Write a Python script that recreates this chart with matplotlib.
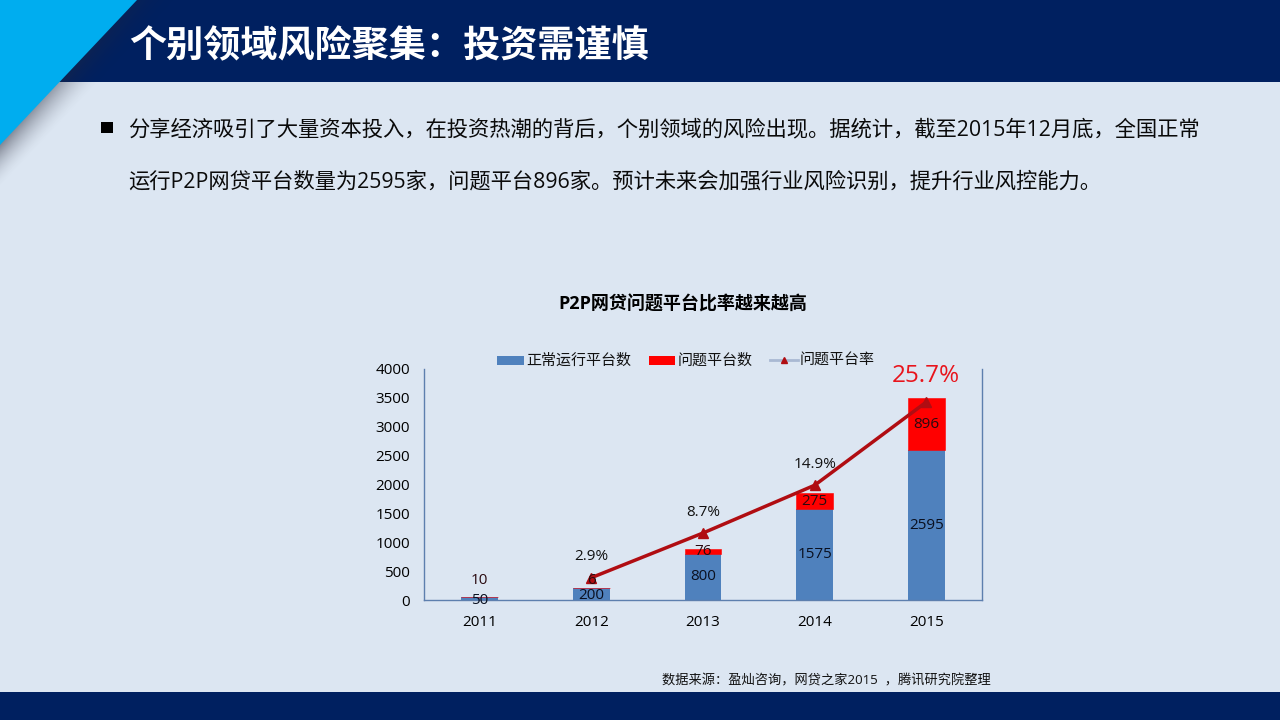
import numpy as np
import matplotlib
matplotlib.use('Agg')
import matplotlib.pyplot as plt
from matplotlib.patches import Polygon, Rectangle

plt.rcParams['font.family'] = ['Open Sans', 'Noto Sans CJK SC', 'DejaVu Sans']

years = ['2011', '2012', '2013', '2014', '2015']
normal = [50, 200, 800, 1575, 2595]
problem = [10, 6, 76, 275, 896]
rate = [np.nan, 2.9, 8.7, 14.9, 25.7]
rate_labels = ['', '2.9%', '8.7%', '14.9%', '25.7%']
yticks = [0, 500, 1000, 1500, 2000, 2500, 3000, 3500, 4000]

title = '个别领域风险聚集：投资需谨慎'
body1 = '分享经济吸引了大量资本投入，在投资热潮的背后，个别领域的风险出现。据统计，截至2015年12月底，全国正常'
body2 = '运行P2P网贷平台数量为2595家，问题平台896家。预计未来会加强行业风险识别，提升行业风控能力。'
chart_title = 'P2P网贷问题平台比率越来越高'
source = '数据来源：盈灿咨询，网贷之家2015  ，腾讯研究院整理'

BG = '#dce6f2'
NAVY = '#002060'
BLUE = '#4f81bd'
RED = '#ff0000'
DARKRED = '#b00d12'
W, H = 1280, 720


def px_axes(fig, left, top, right, bottom):
    return fig.add_axes([left / W, 1 - bottom / H, (right - left) / W, (bottom - top) / H])


fig = plt.figure(figsize=(12.8, 7.2), dpi=100, facecolor=BG)

# slide background, pixel coords
bg = fig.add_axes([0, 0, 1, 1])
bg.axis('off')
bg.add_patch(Rectangle((0, 0), W, 82, color=NAVY, lw=0))
bg.add_patch(Rectangle((0, 692), W, 28, color=NAVY, lw=0))

# soft shadow along the edge of the corner triangle
gx, gy = np.meshgrid(np.arange(0, 200) + 0.5, np.arange(0, 200) + 0.5)
dist = (145 * gx + 137 * gy - 137 * 145) / np.hypot(137, 145)
shadow = np.zeros((200, 200, 4))
shadow[..., :3] = (0.15, 0.16, 0.22)
fade_along = np.clip(gy / 145, 0, 1)
shadow[..., 3] = np.clip(1 - dist / 30, 0, 1) ** 1.8 * (0.2 + 0.3 * fade_along) * (dist > -3)
bg.imshow(shadow, extent=(0, 200, 200, 0), zorder=2, interpolation='bilinear', aspect='auto')
bg.set_xlim(0, W)
bg.set_ylim(H, 0)
bg.add_patch(Polygon([(0, 0), (137, 0), (0, 145)], color='#00adef', lw=0, zorder=4))

bg.text(129, 47, title, color='white', fontsize=26.7, fontweight='bold', va='center', ha='left', zorder=5)
bg.add_patch(Rectangle((101, 122), 12, 11, color='black', lw=0))
bg.text(128.5, 130, body1, color='#0a0a0a', fontsize=15.35, va='center', ha='left')
bg.text(128.5, 182, body2, color='#0a0a0a', fontsize=15.35, va='center', ha='left')
bg.text(682.5, 304, chart_title, color='black', fontsize=13, fontweight='bold', va='center', ha='center')
bg.text(826, 681, source, color='#111111', fontsize=9.5, va='center', ha='center')

# chart
ax = px_axes(fig, 424, 369, 982, 600)
ax.patch.set_alpha(0)
x = np.arange(len(years))
b1 = ax.bar(x, normal, width=0.33, color=BLUE, label='正常运行平台数', zorder=2)
b2 = ax.bar(x, problem, width=0.33, bottom=normal, color=RED, label='问题平台数', zorder=2,
            edgecolor=RED, linewidth=0.4)
ax.set_xlim(-0.5, 4.5)
ax.set_ylim(0, 4000)
ax.set_yticks(yticks)
ax.set_xticks(x)
ax.set_xticklabels(years)
ax.tick_params(axis='both', length=0, labelsize=11, colors='black')
ax.tick_params(axis='x', pad=11)
ax.tick_params(axis='y', pad=10)
ax.spines['top'].set_visible(False)
for side in ['left', 'bottom', 'right']:
    ax.spines[side].set_color('#5d7fae')
    ax.spines[side].set_linewidth(1)

ax2 = ax.twinx()
ax2.set_ylim(0, 30)
ax2.axis('off')
line, = ax2.plot(x, rate, color=DARKRED, lw=2.5, marker='^', ms=6.5, mfc=DARKRED, mec=DARKRED, zorder=3)

# bar labels go on the top axes so they stay over the line
normal_offset = [-25, -16, 0, 0, 0]
problem_offset = [275, 143, 0, 0, 0]
for i in range(len(years)):
    ax2.annotate(str(normal[i]), (x[i], normal[i] / 2 + normal_offset[i]), xycoords=ax.transData,
                 ha='center', va='center', fontsize=11, color='#0a1020', zorder=6)
    ax2.annotate(str(problem[i]), (x[i], normal[i] + problem[i] / 2 + problem_offset[i]), xycoords=ax.transData,
                 ha='center', va='center', fontsize=11, color='#2a0a10', zorder=6)

for i in range(1, 4):
    ax2.annotate(rate_labels[i], (x[i], rate[i]), xytext=(0, 9.5), textcoords='offset points',
                 ha='center', va='bottom', fontsize=11, color='#111111')
ax2.annotate(rate_labels[4], (x[4], rate[4]), xytext=(0, 10), textcoords='offset points',
             ha='center', va='bottom', fontsize=17.5, color='#e8141c')

# legend laid out by hand to keep the spacing of the original
bg.add_patch(Rectangle((497, 356), 27, 9, color=BLUE, lw=0))
bg.text(526, 361, b1.get_label(), fontsize=10.8, va='center', ha='left', color='#111111')
bg.add_patch(Rectangle((649, 356), 26, 9, color=RED, lw=0))
bg.text(678, 361, b2.get_label(), fontsize=10.8, va='center', ha='left', color='#111111')
bg.plot([770, 798], [360, 360], color='#a9b9d3', lw=2)
bg.plot([784], [360], marker='^', ms=5, color=DARKRED, mec=DARKRED)
bg.text(800, 361, '问题平台率', fontsize=10.8, va='center', ha='left', color='#111111')

fig.savefig('out.png', dpi=100, facecolor=BG)
